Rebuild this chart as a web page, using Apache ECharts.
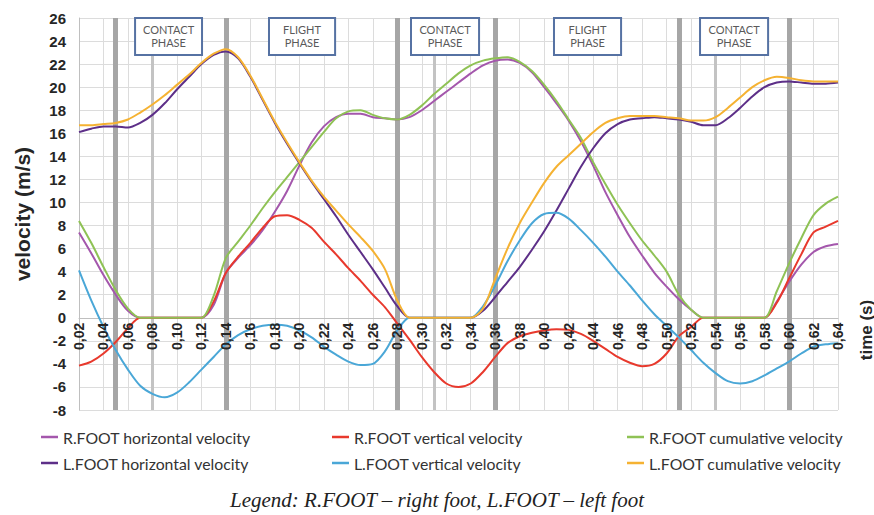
<!DOCTYPE html>
<html><head><meta charset="utf-8">
<script src="https://cdn.jsdelivr.net/npm/echarts@6/dist/echarts.min.js"></script>
<style>html,body{margin:0;padding:0;background:#fff}#c{width:874px;height:515px}</style>
</head><body><div id="c"></div>
<script>
// time (s)
const times = [0.02,0.03,0.04,0.05,0.06,0.07,0.08,0.09,0.10,0.11,0.12,0.13,0.14,0.15,0.16,0.17,0.18,0.19,0.20,0.21,0.22,0.23,0.24,0.25,0.26,0.27,0.28,0.29,0.30,0.31,0.32,0.33,0.34,0.35,0.36,0.37,0.38,0.39,0.40,0.41,0.42,0.43,0.44,0.45,0.46,0.47,0.48,0.49,0.50,0.51,0.52,0.53,0.54,0.55,0.56,0.57,0.58,0.59,0.60,0.61,0.62,0.63,0.64];

const rFootHorizontal = [7.4,5.6,3.7,2.0,0.6,0,0,0,0,0,0,1.1,3.9,5.2,6.3,7.6,9.2,11.0,13.2,15.2,16.6,17.4,17.7,17.7,17.4,17.3,17.2,17.4,18.0,18.8,19.6,20.4,21.2,21.9,22.3,22.4,22.1,21.3,20.0,18.6,17.1,15.3,13.2,10.9,8.9,7.0,5.4,3.9,2.7,1.6,0.7,0,0,0,0,0,0,1.4,3.1,4.6,5.7,6.2,6.4];
const rFootVertical = [-4.15,-3.8,-3.1,-2.1,-0.9,0,0,0,0,0,0,1.4,3.9,5.3,6.5,7.8,8.8,8.9,8.5,7.8,6.6,5.5,4.3,3.2,2.0,0.9,-0.5,-1.9,-3.4,-4.7,-5.7,-6.0,-5.7,-4.7,-3.4,-2.2,-1.6,-1.3,-1.1,-1.0,-1.05,-1.4,-2.0,-2.7,-3.4,-3.9,-4.2,-4.0,-3.1,-1.6,-0.8,0,0,0,0,0,0,1.3,3.4,5.5,7.4,7.9,8.4];
const rFootCumulative = [8.4,6.5,4.4,2.4,0.8,0,0,0,0,0,0,1.9,5.2,6.6,8.0,9.5,10.9,12.2,13.5,14.8,16.1,17.3,17.9,18.0,17.6,17.3,17.2,17.6,18.4,19.4,20.3,21.2,21.9,22.3,22.5,22.6,22.2,21.4,20.2,18.8,17.2,15.6,13.5,11.6,9.8,8.2,6.7,5.4,4.0,2.0,0.7,0,0,0,0,0,0,2.3,4.7,6.9,8.9,9.9,10.5];
const lFootHorizontal = [16.1,16.4,16.6,16.6,16.5,16.9,17.6,18.6,19.8,20.9,22.0,22.8,23.1,22.5,20.9,18.9,16.9,15.1,13.4,11.8,10.3,8.8,7.2,5.7,4.2,2.6,1.0,0,0,0,0,0,0,0.6,1.8,3.1,4.4,5.9,7.5,9.3,11.2,13.1,14.7,16.0,16.8,17.2,17.3,17.4,17.3,17.2,17.0,16.7,16.7,17.3,18.2,19.2,20.0,20.4,20.5,20.4,20.3,20.3,20.4];
const lFootVertical = [4.1,1.5,-0.8,-2.8,-4.5,-5.9,-6.6,-6.9,-6.5,-5.6,-4.5,-3.4,-2.3,-1.5,-1.0,-0.7,-0.6,-0.7,-1.1,-1.7,-2.5,-3.2,-3.8,-4.1,-4.0,-2.9,-1.1,0,0,0,0,0,0,1.0,2.8,4.9,6.7,8.2,9.0,9.1,8.6,7.6,6.5,5.3,4.0,2.8,1.5,0.3,-0.7,-1.7,-2.8,-3.9,-4.8,-5.5,-5.7,-5.5,-5.0,-4.4,-3.8,-3.1,-2.5,-2.3,-2.2];
const lFootCumulative = [16.7,16.7,16.8,16.9,17.2,17.8,18.5,19.3,20.2,21.1,22.1,22.9,23.3,22.6,21.0,19.0,17.0,15.2,13.5,11.9,10.5,9.3,8.1,7.0,5.8,4.2,1.5,0,0,0,0,0,0,0.8,3.4,6.0,8.2,10.0,11.7,13.1,14.1,15.1,16.1,16.9,17.3,17.5,17.5,17.5,17.4,17.3,17.1,17.1,17.4,18.2,19.1,20.0,20.6,20.9,20.8,20.6,20.5,20.5,20.5];

const seriesNames = ['R.FOOT horizontal velocity','R.FOOT vertical velocity','R.FOOT cumulative velocity','L.FOOT horizontal velocity','L.FOOT vertical velocity','L.FOOT cumulative velocity'];
const seriesValues = [rFootHorizontal, rFootVertical, rFootCumulative, lFootHorizontal, lFootVertical, lFootCumulative];
const seriesColors = ['#a457ac','#e8392d','#8fc255','#5d2f88','#4aa7d7','#f5b232'];

// phase annotations (time, s)
const phaseBoundaries = [0.05, 0.1366, 0.2768, 0.36, 0.5096, 0.6003];
const phaseMidlines = [0.08, 0.31, 0.543];
const phaseBoxes = [
  {label:'CONTACT\nPHASE', from:0.0658, to:0.1205},
  {label:'FLIGHT\nPHASE', from:0.1752, to:0.2292},
  {label:'CONTACT\nPHASE', from:0.2912, to:0.3468},
  {label:'FLIGHT\nPHASE', from:0.408, to:0.4628},
  {label:'CONTACT\nPHASE', from:0.5273, to:0.5829}
];
const boxTop = 26, boxBottom = 22.8;
const xMin = 0.02, xMax = 0.64, xStep = 0.02;
const yMin = -8, yMax = 26, yStep = 2;

const gridTop = 18, gridBottom = 105, plotH = 515 - gridTop - gridBottom;
const zeroOffset = -plotH * (0 - yMin) / (yMax - yMin); // move x axis up to the zero line

const chart = echarts.init(document.getElementById('c'), null, {renderer:'svg'});

const series = seriesNames.map((name, k) => ({
  name, type:'line', smooth:0.3, symbol:'none', z:2, xAxisIndex:0,
  lineStyle:{width:2, color:seriesColors[k]}, itemStyle:{color:seriesColors[k]},
  data: times.map((t,i)=>[t, seriesValues[k][i]])
}));
series[0].markLine = {
  silent:true, symbol:['none','none'], z:1, animation:false, label:{show:false},
  data: phaseBoundaries.map(t=>({xAxis:t, lineStyle:{color:'#a6a6a6', width:5, type:'solid'}}))
    .concat(phaseMidlines.map(t=>({xAxis:t, lineStyle:{color:'#c3c3c3', width:3, type:'solid'}})))
};
series[0].markArea = {
  silent:true, z:10,
  itemStyle:{color:'#ffffff', borderColor:'#5672a3', borderWidth:2},
  label:{show:true, position:'inside', color:'#5a5a5a', fontFamily:'Lato', fontSize:11, lineHeight:13},
  data: phaseBoxes.map(b=>[{xAxis:b.from, yAxis:boxTop, name:b.label},{xAxis:b.to, yAxis:boxBottom}])
};

const legendText = {fontFamily:'Lato', fontSize:15.8, color:'#333'};
function legendCol(left, names){
  return {orient:'vertical', left, top:429, padding:0, itemGap:10, itemWidth:17, itemHeight:2.5, icon:'rect',
    textStyle:legendText, data:names, selectedMode:false};
}
const xLabelStyle = {rotate:90, margin:5, fontFamily:'Liberation Sans', fontWeight:'bold', fontSize:14, color:'#262626',
  formatter:v=>v.toFixed(2).replace('.',',')};

chart.setOption({
  animation:false,
  grid:{left:79, right:36, top:gridTop, bottom:gridBottom},
  title:{text:'Legend: R.FOOT – right foot, L.FOOT – left foot', left:'center', top:484,
    textStyle:{fontFamily:'Liberation Serif', fontStyle:'italic', fontWeight:'normal', fontSize:21, color:'#222'}},
  legend:[
    legendCol(41, [seriesNames[0], seriesNames[3]]),
    legendCol(332, [seriesNames[1], seriesNames[4]]),
    legendCol(627, [seriesNames[2], seriesNames[5]])
  ],
  xAxis:[
    {type:'value', min:xMin, max:xMax, interval:xStep, position:'bottom', offset:zeroOffset, z:0,
      axisLine:{onZero:false, lineStyle:{color:'#bfbfbf'}}, axisTick:{show:false},
      axisLabel:{show:false},
      splitLine:{show:true, lineStyle:{color:'#dcdcdc'}}},
    {type:'value', min:xMin, max:xMax, interval:xStep, position:'bottom', offset:zeroOffset, z:6,
      axisLine:{show:false, onZero:false}, axisTick:{show:false}, splitLine:{show:false},
      axisLabel:xLabelStyle}
  ],
  yAxis:{type:'value', min:yMin, max:yMax, interval:yStep,
    name:'velocity (m/s)', nameLocation:'middle', nameGap:46, nameRotate:90,
    nameTextStyle:{fontFamily:'Liberation Sans', fontWeight:'bold', fontSize:21, color:'#262626'},
    axisLine:{show:true, lineStyle:{color:'#bfbfbf'}}, axisTick:{show:false},
    axisLabel:{margin:13, fontFamily:'Liberation Sans', fontWeight:'bold', fontSize:15, color:'#262626'},
    splitLine:{lineStyle:{color:'#dcdcdc'}}},
  graphic:[{type:'text', x:866, y:330, rotation:Math.PI/2,
    style:{text:'time (s)', fontFamily:'Liberation Sans', fontWeight:'bold', fontSize:17, fill:'#262626', align:'center', verticalAlign:'middle'}}],
  series
});
</script></body></html>
